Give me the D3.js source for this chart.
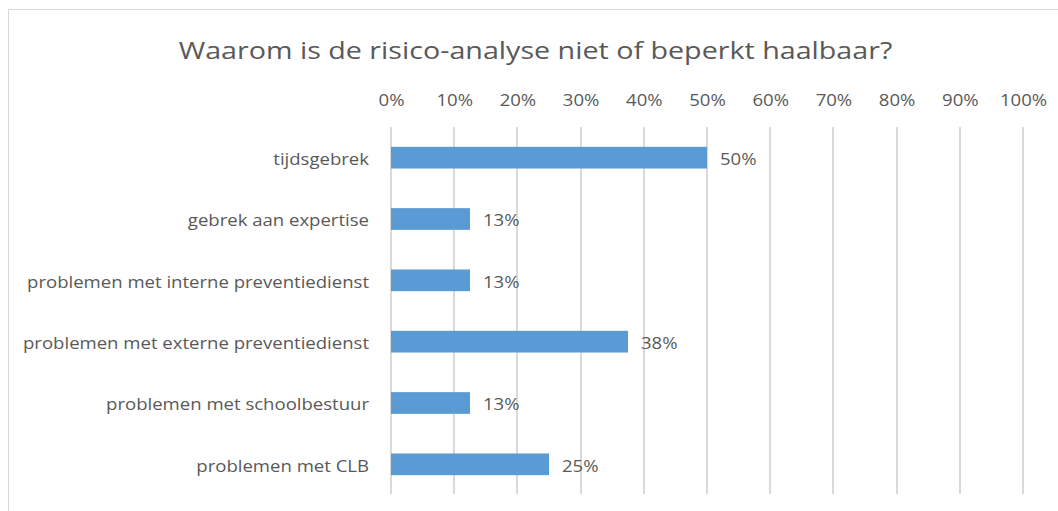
<!DOCTYPE html>
<html><head><meta charset="utf-8">
<script src="https://cdn.jsdelivr.net/npm/d3@7"></script>
<style>body{margin:0;background:#fff}svg{display:block}text{font-family:"Open Sans","Noto Sans",sans-serif;fill:#595959}</style>
</head><body>
<svg id="c" width="1058" height="511"></svg>
<script>
const categories = ["tijdsgebrek","gebrek aan expertise","problemen met interne preventiedienst","problemen met externe preventiedienst","problemen met schoolbestuur","problemen met CLB"];
const values = [0.5,0.125,0.125,0.375,0.125,0.25];
const valueLabels = ["50%","13%","13%","38%","13%","25%"];
const ticks = [0,0.1,0.2,0.3,0.4,0.5,0.6,0.7,0.8,0.9,1];
const title = "Waarom is de risico-analyse niet of beperkt haalbaar?";

const SX = 1.16, TSX = 1.22;
const svg = d3.select("#c");
svg.append("rect").attr("x",8.5).attr("y",9.5).attr("width",1080).attr("height",520)
  .attr("fill","#fff").attr("stroke","#d9d9d9").attr("stroke-width",1);

const x = d3.scaleLinear().domain([0,1]).range([391,1023]);
const y = d3.scaleBand().domain(categories).range([127,495]).paddingInner(0.646).paddingOuter(0.323);

svg.append("text").attr("transform",`translate(535.5,59) scale(${TSX},1)`).attr("text-anchor","middle")
  .style("font-size","23.5px").text(title);

svg.append("g").selectAll("line").data(ticks).join("line")
  .attr("x1",d=>Math.round(x(d))).attr("x2",d=>Math.round(x(d)))
  .attr("y1",127).attr("y2",494).attr("stroke","#d9d9d9").attr("stroke-width",2);

const xAxis = d3.axisTop(x).tickValues(ticks).tickFormat(d3.format(".0%")).tickSize(0).tickPadding(0);
const gx = svg.append("g").attr("transform","translate(0,106)").call(xAxis);
gx.select(".domain").remove();
gx.selectAll("text").style("font-size","16px").attr("fill","#595959")
  .attr("transform",`scale(${SX},1)`);

const yAxis = d3.axisLeft(y).tickSize(0).tickPadding(21);
const gy = svg.append("g").attr("transform","translate(391,0)").call(yAxis);
gy.select(".domain").remove();
gy.selectAll("text").style("font-size","16px").attr("fill","#595959")
  .attr("x",0).attr("dy","0.45em").attr("transform",`translate(-22,0) scale(${SX},1)`);

svg.append("g").selectAll("rect").data(values).join("rect")
  .attr("x",x(0)).attr("y",(d,i)=>y(categories[i]))
  .attr("width",d=>x(d)-x(0)).attr("height",y.bandwidth())
  .attr("fill","#5b9bd5");

svg.append("g").selectAll("text").data(values).join("text")
  .attr("transform",(d,i)=>`translate(${x(d)+13},${y(categories[i])+y.bandwidth()/2}) scale(${SX},1)`)
  .attr("dy","0.45em").style("font-size","16px").text((d,i)=>valueLabels[i]);
</script>
</body></html>
